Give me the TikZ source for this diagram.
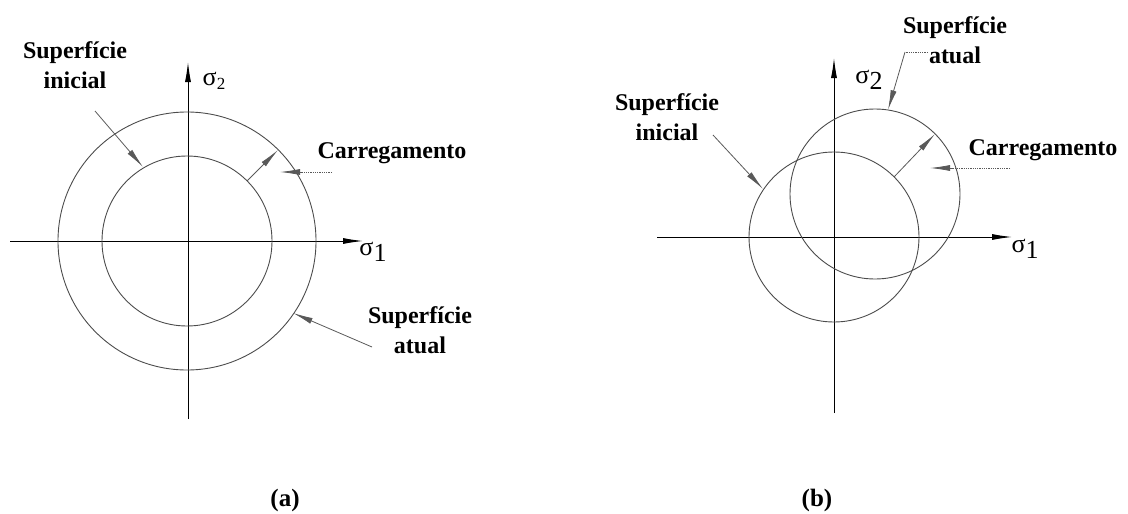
\documentclass[tikz,border=0pt]{standalone}
\usepackage{fontspec}
\setmainfont{Liberation Serif}
\usetikzlibrary{arrows.meta}
\tikzset{
  axis/.style={draw=black, line width=0.9pt, -{Latex[length=20pt,width=6pt]}},
  surf/.style={draw=black!70, line width=0.9pt},
  leader/.style={draw=black!65, line width=0.8pt, -{Latex[length=20pt,width=6pt]}},
  dotleader/.style={draw=black!65, line width=0.8pt, densely dotted},
  lbl/.style={font=\fontsize{24}{30}\selectfont\bfseries, align=center, inner sep=0pt},
  sig/.style={font=\fontsize{26}{28}\selectfont, inner sep=0pt},
  caplbl/.style={font=\fontsize{25}{28}\selectfont\bfseries, inner sep=0pt}
}
\newcommand{\sgsub}[1]{σ\raisebox{-4pt}{\fontsize{17}{18}\selectfont #1}}
\newcommand{\sgbig}[1]{σ\raisebox{-6pt}{#1}}
\begin{document}
\begin{tikzpicture}[x=1pt,y=-1pt]
\useasboundingbox (0,0) rectangle (1128,514);
% ---------------- panel (a)
\coordinate (Oa) at (187,241);
\coordinate (ax-l) at (10,241);
\coordinate (ax-r) at (363,241);
\coordinate (ay-b) at (188,419);
\coordinate (ay-t) at (188,62);
\draw[axis] (ax-l) -- (ax-r);
\draw[axis] (ay-b) -- (ay-t);
\draw[surf] (Oa) circle[radius=129];
\draw[surf] (Oa) circle[radius=85];
\node[sig] (s2a) at (214,81) {\sgsub{2}};
\node[sig] (s1a) at (373,252) {\sgbig{1}};
\node[lbl] (inia) at (75,65) {Superfície\\inicial};
\node[lbl] (carra) at (392,153) {Carregamento};
\node[lbl] (atua) at (420,330) {Superfície\\atual};
\coordinate (ia0) at (95,111);
\coordinate (ia1) at (143,167);
\draw[leader] (ia0) -- (ia1);
\coordinate (la0) at (247,181);
\coordinate (la1) at (278,150);
\draw[leader] (la0) -- (la1);
\coordinate (ca0) at (332,172);
\coordinate (ca1) at (302,172);
\coordinate (ca2) at (280,172);
\draw[dotleader] (ca0) -- (ca1);
\draw[leader] (ca1) -- (ca2);
\coordinate (ta0) at (372,347);
\coordinate (ta1) at (293,313);
\draw[leader] (ta0) -- (ta1);
\node[caplbl] (capa) at (285,500) {(a)};
% ---------------- panel (b)
\coordinate (Ob) at (834,237);
\coordinate (Cb) at (875,194);
\coordinate (bx-l) at (657,237);
\coordinate (bx-r) at (1012,237);
\coordinate (by-b) at (834,413);
\coordinate (by-t) at (834,58);
\draw[axis] (bx-l) -- (bx-r);
\draw[axis] (by-b) -- (by-t);
\draw[surf] (Ob) circle[radius=85];
\draw[surf] (Cb) circle[radius=85];
\node[sig] (s2b) at (869,80) {\sgbig{2}};
\node[sig] (s1b) at (1025,249) {\sgbig{1}};
\node[lbl] (inib) at (667,117) {Superfície\\inicial};
\node[lbl] (atub) at (955,40) {Superfície\\atual};
\node[lbl] (carrb) at (1043,150) {Carregamento};
\coordinate (ib0) at (713,135);
\coordinate (ib1) at (763,189);
\draw[leader] (ib0) -- (ib1);
\coordinate (lb0) at (894,177);
\coordinate (lb1) at (935,134);
\draw[leader] (lb0) -- (lb1);
\coordinate (cb0) at (1010,168);
\coordinate (cb1) at (952,168);
\coordinate (cb2) at (930,168);
\draw[dotleader] (cb0) -- (cb1);
\draw[leader] (cb1) -- (cb2);
\coordinate (tb0) at (928,52);
\coordinate (tb1) at (905,52);
\coordinate (tb2) at (888,110);
\draw[dotleader] (tb0) -- (tb1);
\draw[leader] (tb1) -- (tb2);
\node[caplbl] (capb) at (817,500) {(b)};
\end{tikzpicture}
\end{document}
